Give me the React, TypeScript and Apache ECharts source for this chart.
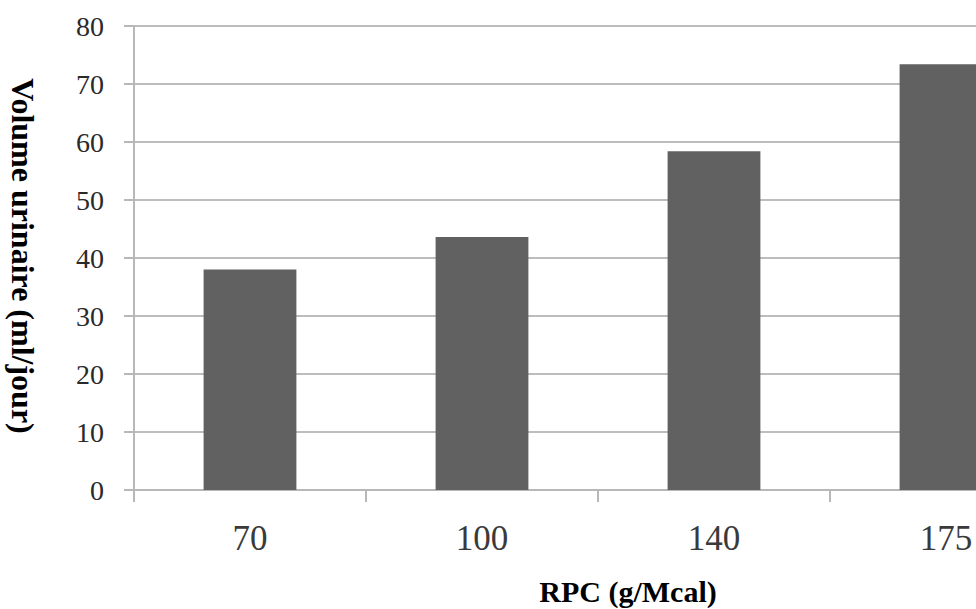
import React, { useEffect, useRef } from "react";
import * as echarts from "echarts";

const categories = ["70", "100", "140", "175"];
const volumes = [38, 43.6, 58.4, 73.4];
const yTitle = "Volume urinaire (ml/jour)";
const xTitle = "RPC (g/Mcal)";

export default function App() {
  const ref = useRef<HTMLDivElement>(null);
  useEffect(() => {
    if (!ref.current) return;
    const chart = echarts.init(ref.current, undefined, { renderer: "svg" });
    chart.setOption({
      animation: false,
      backgroundColor: "#ffffff",
      grid: { left: 134, top: 26, width: 928, height: 464, containLabel: false },
      xAxis: {
        type: "category",
        data: categories,
        axisLine: { show: true, lineStyle: { color: "#b8b8b8", width: 2 } },
        axisTick: { show: true, length: 12, lineStyle: { color: "#b8b8b8", width: 2 } },
        axisLabel: {
          margin: 31,
          fontFamily: "Liberation Serif",
          fontSize: 35,
          color: "#3a3a3a",
        },
        splitLine: { show: false },
      },
      yAxis: {
        type: "value",
        min: 0,
        max: 80,
        interval: 10,
        axisLine: { show: true, lineStyle: { color: "#b8b8b8", width: 2 } },
        axisTick: { show: true, length: 10, lineStyle: { color: "#b8b8b8", width: 2 } },
        axisLabel: {
          margin: 30,
          fontFamily: "Liberation Serif",
          fontSize: 28,
          color: "#2a2a2a",
        },
        splitLine: { show: true, lineStyle: { color: "#bdbdbd", width: 2 } },
      },
      series: [
        {
          type: "bar",
          data: volumes,
          barWidth: "40%",
          itemStyle: { color: "#616161" },
        },
      ],
      graphic: [
        {
          type: "text",
          x: 23,
          y: 256,
          rotation: -Math.PI / 2,
          style: {
            text: yTitle,
            fontFamily: "Liberation Serif",
            fontWeight: "bold",
            fontSize: 32,
            fill: "#000000",
            align: "center",
            verticalAlign: "middle",
          },
        },
        {
          type: "text",
          x: 628,
          y: 591,
          style: {
            text: xTitle,
            fontFamily: "Liberation Serif",
            fontWeight: "bold",
            fontSize: 30,
            fill: "#000000",
            align: "center",
            verticalAlign: "middle",
          },
        },
      ],
    });
    return () => chart.dispose();
  }, []);
  return (
    <div style={{ position: "fixed", left: 0, top: 0, width: 976, height: 609, overflow: "hidden", background: "#fff" }}>
      <div ref={ref} style={{ width: 1100, height: 609 }} />
    </div>
  );
}
